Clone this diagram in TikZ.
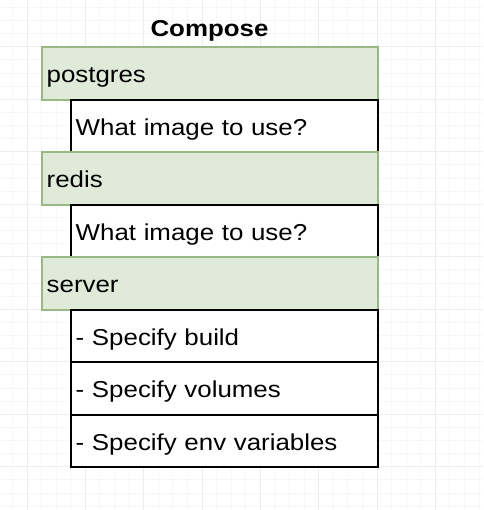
\documentclass[tikz,border=0pt]{standalone}
\usepackage{fontspec}
\setmainfont{Liberation Sans}[FakeStretch=1.125]
\usetikzlibrary{positioning}
\definecolor{svcfill}{HTML}{E0EAD9}
\definecolor{svcline}{HTML}{9AB883}
\tikzset{%
  compbox/.style    = {shape=rectangle, draw, outer sep=0pt, inner xsep=5pt,%
                       minimum height=52.5pt, text height=18.9pt, text depth=0pt,%
                       align=left, line width=2pt, font=\fontsize{23}{27}\selectfont},%
  servicebox/.style = {compbox, fill=svcfill, draw=svcline, text width=326.3pt},%
  optionbox/.style  = {compbox, fill=white, draw=black, text width=297.3pt},%
  minorgrid/.style  = {draw=black!3, line width=0.8pt},%
  majorgrid/.style  = {draw=black!7, line width=0.8pt}%
}

\begin{document}
\begin{tikzpicture}[x=1pt,y=1pt,node distance=0pt]
	\useasboundingbox[fill=white] (0,0) rectangle (483,510);
	% background grid
	\foreach \i in {0,...,32}
		\draw[minorgrid] ({12.4+14.58*\i},0) -- ++(0,510);
	\foreach \j in {0,...,38}
		\draw[minorgrid] (0,{502.6-13.125*\j}) -- ++(483,0);
	\foreach \i in {0,...,7}
		\draw[majorgrid] ({27+58.32*\i},0) -- ++(0,510);
	\foreach \j in {0,...,8}
		\draw[majorgrid] (0,{463.2-52.5*\j}) -- ++(483,0);
	% compose file
	\node[anchor=base, font=\bfseries\fontsize{23}{27}\selectfont] (title) at (209.5,473.3) {Compose};
	\node[servicebox, anchor=north west] (postgres) at (41.7,462.7) {postgres};
	\node[optionbox, below left=0pt and 0pt of postgres.south east] (pgimage) {What image to use?};
	\node[servicebox, below left=0pt and 0pt of pgimage.south east] (redis) {redis};
	\node[optionbox, below left=0pt and 0pt of redis.south east] (redisimage) {What image to use?};
	\node[servicebox, below left=0pt and 0pt of redisimage.south east] (server) {server};
	\node[optionbox, below left=0pt and 0pt of server.south east] (build) {- Specify build};
	\node[optionbox, below=0pt of build] (volumes) {- Specify volumes};
	\node[optionbox, below=0pt of volumes] (envvars) {- Specify env variables};
\end{tikzpicture}
\end{document}
